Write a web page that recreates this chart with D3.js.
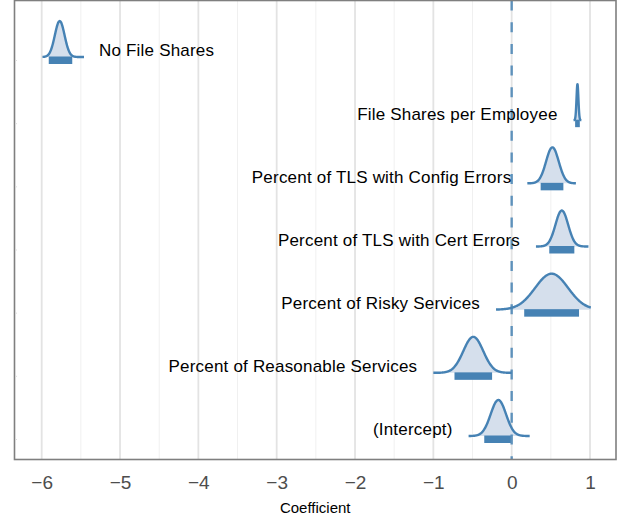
<!doctype html>
<head>
<meta charset="utf-8">
<script src="https://d3js.org/d3.v7.min.js"></script>
<style>
  body { margin: 0; background: #fff; }
  text { font-family: "Liberation Sans", Arial, sans-serif; }
</style>
</head>
<body>
<svg id="chart" width="621" height="521"></svg>
<script>
// posterior summaries, top row first
const terms = ["No File Shares", "File Shares per Employee", "Percent of TLS with Config Errors",
  "Percent of TLS with Cert Errors", "Percent of Risky Services", "Percent of Reasonable Services", "(Intercept)"]
const means = [-5.77, 0.84, 0.52, 0.64, 0.51, -0.49, -0.17]
const sds = [0.062, 0.012, 0.081, 0.081, 0.21, 0.127, 0.098]
const tailLo = [-5.99, 0.79, 0.20, 0.31, -0.20, -1.00, -0.55]
const tailHi = [-5.46, 0.89, 0.82, 0.98, 1.01, 0.00, 0.23]
const intLo = [-5.91, 0.81, 0.37, 0.48, 0.16, -0.73, -0.35]
const intHi = [-5.61, 0.87, 0.66, 0.80, 0.86, -0.25, -0.01]
const xTicks = [-6, -5, -4, -3, -2, -1, 0, 1]

const svg = d3.select("#chart")
const pLeft = 14.5, pRight = 616, pTop = 0.5, pBottom = 459.5
const blue = "#4682b4"

const x = d3.scaleLinear().domain([-6, 1]).range([41.7, 590])
const y = d3.scalePoint().domain(terms).range([60.5, 439.5])
const h = d3.scaleLinear().domain([0, 1]).range([0, 36])

// grid
const minor = d3.range(-6.5, 1.6, 1).filter(v => x(v) > pLeft && x(v) < pRight)
svg.selectAll(".minor").data(minor).join("line")
  .attr("x1", d => x(d)).attr("x2", d => x(d)).attr("y1", pTop).attr("y2", pBottom)
  .attr("stroke", "#f0f0f0").attr("stroke-width", 1)
svg.selectAll(".major").data(xTicks).join("line")
  .attr("x1", d => x(d)).attr("x2", d => x(d)).attr("y1", pTop).attr("y2", pBottom)
  .attr("stroke", "#e3e3e3").attr("stroke-width", 1.8)

// densities
const rows = terms.map((t, i) => ({t, m: means[i], s: sds[i], lo: tailLo[i], hi: tailHi[i], a: intLo[i], b: intHi[i]}))
rows.forEach(r => {
  const base = y(r.t) - 3.5
  const pts = d3.range(0, 201).map(k => {
    const v = r.lo + (r.hi - r.lo) * k / 200
    const z = (v - r.m) / r.s
    return [v, Math.exp(-0.5 * z * z)]
  })
  const area = d3.area().x(d => x(d[0])).y0(base).y1(d => base - h(d[1])).curve(d3.curveBasis)
  const line = d3.line().x(d => x(d[0])).y(d => base - h(d[1])).curve(d3.curveBasis)
  svg.append("path").attr("d", area(pts)).attr("fill", "#d5dfec")
  svg.append("path").attr("d", line(pts)).attr("fill", "none").attr("stroke", blue).attr("stroke-width", 2.4)
  svg.append("rect").attr("x", x(r.a)).attr("width", x(r.b) - x(r.a))
    .attr("y", base - 0.5).attr("height", 7.5).attr("fill", blue)
})

// zero line
svg.append("line").attr("x1", x(0)).attr("x2", x(0)).attr("y1", pTop).attr("y2", pBottom)
  .attr("stroke", blue).attr("stroke-opacity", 0.85).attr("stroke-width", 2.4)
  .attr("stroke-dasharray", "10,11.7")

// term labels
rows.forEach(r => {
  const base = y(r.t) - 3.5
  const lab = svg.append("text").attr("y", base - 6.5).attr("dy", "0.35em")
    .attr("font-size", 17).attr("letter-spacing", 0.2).attr("fill", "#000").text(r.t)
  const w = lab.node().getComputedTextLength()
  if (x(r.lo) - 16 - w < pLeft) lab.attr("x", x(r.hi) + 15).attr("text-anchor", "start")
  else lab.attr("x", x(r.lo) - 16).attr("text-anchor", "end")
})

// panel border + y ticks
svg.append("rect").attr("x", pLeft).attr("y", pTop).attr("width", pRight - pLeft).attr("height", pBottom - pTop)
  .attr("fill", "none").attr("stroke", "#7f7f7f").attr("stroke-width", 1.6)
svg.selectAll(".yt").data(terms).join("line")
  .attr("x1", pLeft + 0.8).attr("x2", pLeft + 2.5).attr("y1", d => y(d)).attr("y2", d => y(d))
  .attr("stroke", "#ddd").attr("stroke-width", 1)

// x axis
const ax = svg.append("g").attr("transform", `translate(0,${pBottom})`)
  .call(d3.axisBottom(x).tickValues(xTicks).tickFormat(d3.format("d")).tickSize(0).tickPadding(16))
ax.select(".domain").remove()
ax.selectAll("text").attr("font-size", 19).attr("fill", "#4d4d4d")
  .attr("font-family", "'Liberation Sans', Arial, sans-serif")

svg.append("text").attr("x", (pLeft + pRight) / 2).attr("y", 508).attr("dy", "0.35em")
  .attr("text-anchor", "middle").attr("font-size", 15).text("Coefficient")
</script>
</body>
